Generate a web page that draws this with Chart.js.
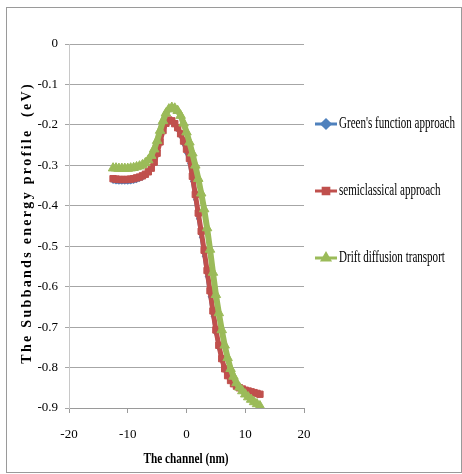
<!DOCTYPE html>
<html>
<head>
<meta charset="utf-8">
<script src="https://cdn.jsdelivr.net/npm/chart.js@4.4.0/dist/chart.umd.min.js"></script>
<style>
  body { margin: 0; background: #fff; }
  #wrap { width: 462px; height: 474px; }
</style>
</head>
<body>
<div id="wrap"><canvas id="myChart" width="462" height="474"></canvas></div>
<script>
const channel = [-12.5, -12, -11.5, -11, -10.5, -10, -9.5, -9, -8.5, -8, -7.5, -7, -6.5, -6, -5.5, -5, -4.5, -4, -3.5, -3,
    -2.5, -2, -1.5, -1, -0.5, 0, 0.5, 1, 1.5, 2, 2.5, 3, 3.5, 4, 4.5, 5, 5.5, 6, 6.5, 7,
    7.5, 8, 8.5, 9, 9.5, 10, 10.5, 11, 11.5, 12, 12.5];

const greensFunction = [-0.340, -0.341, -0.342, -0.342, -0.342, -0.342, -0.341, -0.340, -0.338, -0.335,
    -0.332, -0.327, -0.320, -0.309, -0.292, -0.268, -0.240, -0.213, -0.195, -0.188,
    -0.192, -0.201, -0.213, -0.229, -0.248, -0.270, -0.296, -0.340, -0.385, -0.432,
    -0.478, -0.525, -0.575, -0.625, -0.673, -0.716, -0.752, -0.783, -0.806, -0.822,
    -0.833, -0.840, -0.845, -0.849, -0.852, -0.855, -0.857, -0.859, -0.861, -0.862, -0.866];

const semiclassical = [-0.333, -0.334, -0.335, -0.335, -0.335, -0.335, -0.334, -0.333, -0.331, -0.329,
    -0.326, -0.322, -0.316, -0.307, -0.292, -0.270, -0.242, -0.214, -0.196, -0.188,
    -0.190, -0.197, -0.207, -0.222, -0.240, -0.260, -0.283, -0.327, -0.372, -0.418,
    -0.463, -0.510, -0.560, -0.610, -0.660, -0.707, -0.745, -0.778, -0.803, -0.820,
    -0.832, -0.840, -0.846, -0.850, -0.853, -0.856, -0.858, -0.860, -0.862, -0.864, -0.866];

const driftDiffusion = [-0.307, -0.307, -0.308, -0.308, -0.308, -0.308, -0.307, -0.306, -0.304, -0.302,
    -0.299, -0.294, -0.287, -0.276, -0.260, -0.239, -0.214, -0.190, -0.171, -0.161,
    -0.157, -0.159, -0.165, -0.177, -0.196, -0.218, -0.243, -0.270, -0.300, -0.333,
    -0.369, -0.408, -0.455, -0.508, -0.565, -0.620, -0.665, -0.707, -0.745, -0.776,
    -0.803, -0.822, -0.838, -0.849, -0.858, -0.866, -0.873, -0.879, -0.885, -0.890, -0.895];

const seriesNames = ["Green's function approach", 'semiclassical approach', 'Drift diffusion transport'];
const xTicks = [-20, -10, 0, 10, 20];
const yTicks = [0, -0.1, -0.2, -0.3, -0.4, -0.5, -0.6, -0.7, -0.8, -0.9];
const xTitle = 'The channel (nm)';
const yTitle = 'The Subbands energy profile  (eV)';

function toPoints(ys) {
    return channel.map(function (x, i) { return { x: x, y: ys[i] }; });
}

const serif = "'Liberation Serif', 'Times New Roman', serif";

// legend, axis titles and frame drawn by hand (narrow Excel-like text)
const extras = {
    id: 'extras',
    afterDraw(chart) {
        const ctx = chart.ctx;
        const rows = [124, 191, 258];
        chart.data.datasets.forEach(function (ds, i) {
            const y = rows[i];
            ctx.save();
            ctx.strokeStyle = ds.borderColor;
            ctx.lineWidth = 3;
            ctx.beginPath();
            ctx.moveTo(315, y);
            ctx.lineTo(337, y);
            ctx.stroke();
            ctx.fillStyle = ds.pointBackgroundColor;
            ctx.strokeStyle = ds.pointBorderColor;
            Chart.helpers.drawPoint(ctx, {
                pointStyle: ds.pointStyle,
                radius: 4,
                rotation: 0,
                borderWidth: 1
            }, 326, y);
            ctx.fillStyle = '#000';
            ctx.font = '16px ' + serif;
            ctx.textBaseline = 'middle';
            ctx.translate(339, y);
            ctx.scale(0.69, 1);
            ctx.fillText(seriesNames[i], 0, 0);
            ctx.restore();
        });

        // x title, condensed
        ctx.save();
        ctx.fillStyle = '#000';
        ctx.font = 'bold 15px ' + serif;
        ctx.textAlign = 'center';
        ctx.textBaseline = 'middle';
        ctx.translate(186, 459);
        ctx.scale(0.75, 1);
        ctx.fillText(xTitle, 0, 0);
        ctx.restore();

        // y title, rotated and spaced out letter by letter
        ctx.save();
        ctx.fillStyle = '#000';
        ctx.font = 'bold 14px ' + serif;
        ctx.textBaseline = 'middle';
        const gap = 2.3;
        let total = 0;
        for (const ch of yTitle) total += ctx.measureText(ch).width + gap;
        total -= gap;
        ctx.translate(27, 224);
        ctx.rotate(-Math.PI / 2);
        let pos = -total / 2;
        for (const ch of yTitle) {
            ctx.fillText(ch, pos, 0);
            pos += ctx.measureText(ch).width + gap;
        }
        ctx.restore();

        // frame round the whole picture
        ctx.save();
        ctx.strokeStyle = '#9a9a9a';
        ctx.lineWidth = 1;
        ctx.strokeRect(6.5, 7.5, 455, 465);
        ctx.restore();
    }
};

const ctx = document.getElementById('myChart').getContext('2d');
const myChart = new Chart(ctx, {
    type: 'line',
    data: {
        datasets: [{
            label: seriesNames[0],
            data: toPoints(greensFunction),
            borderColor: '#4F81BD',
            backgroundColor: '#4F81BD',
            pointBackgroundColor: '#4F81BD',
            pointBorderColor: '#4F81BD',
            pointStyle: 'rectRot',
            pointRadius: 2.5,
            pointBorderWidth: 0,
            borderWidth: 3,
            order: 3
        }, {
            label: seriesNames[1],
            data: toPoints(semiclassical),
            borderColor: '#C0504D',
            backgroundColor: '#C0504D',
            pointBackgroundColor: '#C0504D',
            pointBorderColor: '#C0504D',
            pointStyle: 'rect',
            pointRadius: 4.5,
            pointBorderWidth: 1,
            borderWidth: 5,
            order: 2
        }, {
            label: seriesNames[2],
            data: toPoints(driftDiffusion),
            borderColor: '#9BBB59',
            backgroundColor: '#9BBB59',
            pointBackgroundColor: '#9BBB59',
            pointBorderColor: '#9BBB59',
            pointStyle: 'triangle',
            pointRadius: 5.5,
            pointBorderWidth: 1,
            borderWidth: 6,
            order: 1
        }]
    },
    options: {
        responsive: false,
        animation: false,
        layout: { padding: { left: 0, top: 44, right: 158, bottom: 0 } },
        plugins: {
            legend: { display: false },
            tooltip: { enabled: false }
        },
        scales: {
            x: {
                type: 'linear',
                min: -20,
                max: 20,
                afterFit(scale) { scale.height = 66; },
                afterBuildTicks(scale) { scale.ticks = xTicks.map(function (v) { return { value: v }; }); },
                grid: { drawOnChartArea: false, tickLength: 5, color: '#9a9a9a' },
                border: { color: '#9a9a9a' },
                ticks: { padding: 14, color: '#000', font: { family: serif, size: 13 } }
            },
            y: {
                min: -0.9,
                max: 0,
                afterFit(scale) { scale.width = 69; },
                afterBuildTicks(scale) { scale.ticks = yTicks.map(function (v) { return { value: v }; }); },
                grid: { tickLength: 4, color: '#a6a6a6' },
                border: { color: '#c8c8c8' },
                ticks: {
                    padding: 7,
                    color: '#000',
                    font: { family: serif, size: 13 },
                    callback: function (v) { return String(Math.round(v * 10) / 10); }
                }
            }
        }
    },
    plugins: [extras]
});
</script>
</body>
</html>
